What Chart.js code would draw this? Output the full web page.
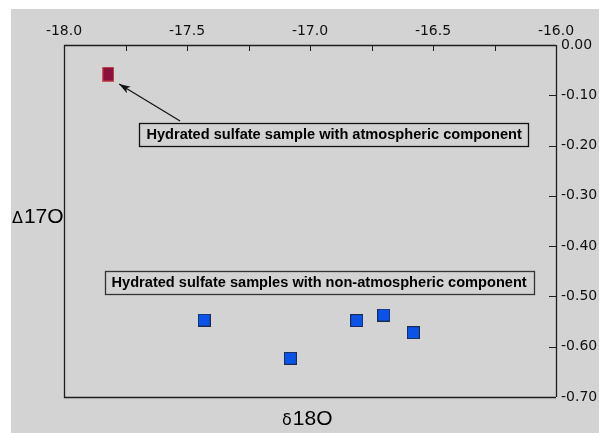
<!DOCTYPE html>
<html>
<head>
<meta charset="utf-8">
<script src="https://cdn.jsdelivr.net/npm/chart.js@4/dist/chart.umd.min.js"></script>
<style>
  html, body { margin:0; padding:0; background:#ffffff; width:599px; height:433px; overflow:hidden; }
  #c { position:absolute; left:11px; top:9px; background:#d3d3d3; }
</style>
</head>
<body>
<canvas id="c" width="588" height="424"></canvas>
<script>
// ---- data ----
const atmX = [-17.82];
const atmY = [-0.058];
const nonAtmX = [-17.43, -17.08, -16.81, -16.70, -16.58];
const nonAtmY = [-0.547, -0.623, -0.548, -0.537, -0.572];
const xTickValues = [-18.0, -17.5, -17.0, -16.5, -16.0];
const yTickValues = [0.00, -0.10, -0.20, -0.30, -0.40, -0.50, -0.60, -0.70];
const labelTexts = ["Hydrated sulfate sample with atmospheric component",
                    "Hydrated sulfate samples with non-atmospheric component"];
const labelCentersX = [-16.902, -16.963];
const labelCentersY = [-0.177, -0.472];
const arrowFrom = [-17.528, -0.151];
const arrowTo = [-17.776, -0.0776];
const xTitle = ["\u03b4", "18O"];
const yTitle = ["\u0394", "17O"];

function makeRect(w, h, fill, stroke) {
  const cv = document.createElement('canvas');
  cv.width = w; cv.height = h;
  const g = cv.getContext('2d');
  g.fillStyle = fill; g.fillRect(0, 0, w, h);
  g.strokeStyle = stroke; g.lineWidth = 1; g.strokeRect(0.5, 0.5, w - 1, h - 1);
  return cv;
}
const redMark = makeRect(12, 15, '#8c0f3c', '#c85a5a');
const blueMark = makeRect(13, 13, '#0a52e8', '#1c2c4c');

const toPts = (xs, ys) => xs.map((x, i) => ({x: x, y: ys[i]}));

const decor = {
  id: 'decor',
  beforeDatasetsDraw(chart) {
    const {ctx, chartArea: a, scales: {x, y}} = chart;
    ctx.save();
    ctx.strokeStyle = '#1e1e1e';
    ctx.lineWidth = 1.3;
    ctx.beginPath();
    ctx.moveTo(a.left, a.top + 0.5); ctx.lineTo(a.right, a.top + 0.5);
    ctx.moveTo(a.right + 0.5, a.top); ctx.lineTo(a.right + 0.5, a.bottom);
    ctx.moveTo(a.left + 0.5, a.top); ctx.lineTo(a.left + 0.5, a.bottom + 0.5);
    ctx.lineTo(a.right, a.bottom + 0.5);
    ctx.stroke();
    ctx.lineWidth = 1;
    ctx.beginPath();
    x.ticks.forEach(t => {
      const px = Math.round(x.getPixelForValue(t.value)) + 0.5;
      ctx.moveTo(px, a.top); ctx.lineTo(px, a.top + 6);
    });
    y.ticks.forEach(t => {
      const py = Math.round(y.getPixelForValue(t.value)) + 0.5;
      ctx.moveTo(a.right - 7, py); ctx.lineTo(a.right, py);
    });
    ctx.stroke();
    ctx.restore();
  },
  afterDatasetsDraw(chart) {
    const {ctx, chartArea: a, scales: {x, y}} = chart;
    ctx.save();
    // arrow
    const fx = x.getPixelForValue(arrowFrom[0]), fy = y.getPixelForValue(arrowFrom[1]);
    const tx = x.getPixelForValue(arrowTo[0]), ty = y.getPixelForValue(arrowTo[1]);
    ctx.strokeStyle = '#111'; ctx.fillStyle = '#111'; ctx.lineWidth = 1.2;
    ctx.beginPath(); ctx.moveTo(fx, fy); ctx.lineTo(tx, ty); ctx.stroke();
    const ang = Math.atan2(ty - fy, tx - fx);
    const L = 12, W = 0.32;
    ctx.beginPath();
    ctx.moveTo(tx, ty);
    ctx.lineTo(tx - L * Math.cos(ang - W), ty - L * Math.sin(ang - W));
    ctx.lineTo(tx - L * 0.7 * Math.cos(ang), ty - L * 0.7 * Math.sin(ang));
    ctx.lineTo(tx - L * Math.cos(ang + W), ty - L * Math.sin(ang + W));
    ctx.closePath(); ctx.fill();
    // label boxes
    ctx.font = "bold 14.6px 'Liberation Sans', Arial, sans-serif";
    ctx.textBaseline = 'middle';
    ctx.textAlign = 'center';
    labelTexts.forEach((txt, i) => {
      const cx = x.getPixelForValue(labelCentersX[i]);
      const cy = y.getPixelForValue(labelCentersY[i]);
      const w = ctx.measureText(txt).width + 14;
      const h = 23;
      const bx = Math.round(cx - w / 2) + 0.5, by = Math.round(cy - h / 2) + 0.5;
      ctx.fillStyle = '#d3d3d3';
      ctx.fillRect(bx, by, w, h);
      ctx.strokeStyle = i === 0 ? '#111' : '#333';
      ctx.lineWidth = 1.3;
      ctx.strokeRect(bx, by, Math.round(w), h);
      ctx.fillStyle = '#000';
      ctx.fillText(txt, cx, cy + 1);
    });
    // axis titles
    ctx.textAlign = 'left';
    ctx.textBaseline = 'alphabetic';
    ctx.fillStyle = '#000';
    const drawTitle = (parts, sx, base) => {
      ctx.font = "16px 'DejaVu Sans', sans-serif";
      ctx.fillText(parts[0], sx, base);
      const w0 = ctx.measureText(parts[0]).width;
      ctx.font = "21px 'Liberation Sans', Arial, sans-serif";
      ctx.fillText(parts[1], sx + w0 + 1, base);
    };
    drawTitle(yTitle, 1, 214);
    drawTitle(xTitle, (a.left + a.right) / 2 - 28, 416);
    ctx.restore();
  }
};

new Chart(document.getElementById('c'), {
  type: 'scatter',
  data: {
    datasets: [
      { label: 'atmospheric', data: toPts(atmX, atmY), pointStyle: redMark, pointRadius: 8, pointHoverRadius: 8 },
      { label: 'non-atmospheric', data: toPts(nonAtmX, nonAtmY), pointStyle: blueMark, pointRadius: 8, pointHoverRadius: 8 }
    ]
  },
  options: {
    responsive: false,
    devicePixelRatio: 1,
    animation: false,
    layout: { padding: { left: 53, bottom: 36, top: 0, right: 0 } },
    plugins: { legend: { display: false }, tooltip: { enabled: false } },
    scales: {
      x: {
        type: 'linear', position: 'top', min: -18, max: -16,
        grid: { display: false, drawTicks: false },
        border: { display: false },
        afterFit(s) { s.height = 36; },
        ticks: {
          stepSize: 0.25, autoSkip: false, maxRotation: 0, padding: 5,
          color: '#111', font: { family: "'DejaVu Sans', sans-serif", size: 14 },
          callback: v => xTickValues.some(t => Math.abs(t - v) < 1e-6) ? v.toFixed(1) : ''
        }
      },
      y: {
        type: 'linear', position: 'right', min: -0.7, max: 0,
        grid: { display: false, drawTicks: false },
        border: { display: false },
        afterFit(s) { s.width = 43; },
        ticks: {
          stepSize: 0.1, autoSkip: false, padding: 5,
          color: '#111', font: { family: "'DejaVu Sans', sans-serif", size: 14 },
          callback: v => yTickValues.some(t => Math.abs(t - v) < 1e-6) ? (Math.abs(v) < 1e-9 ? '0.00' : v.toFixed(2)) : ''
        }
      }
    }
  },
  plugins: [decor]
});
</script>
</body>
</html>
